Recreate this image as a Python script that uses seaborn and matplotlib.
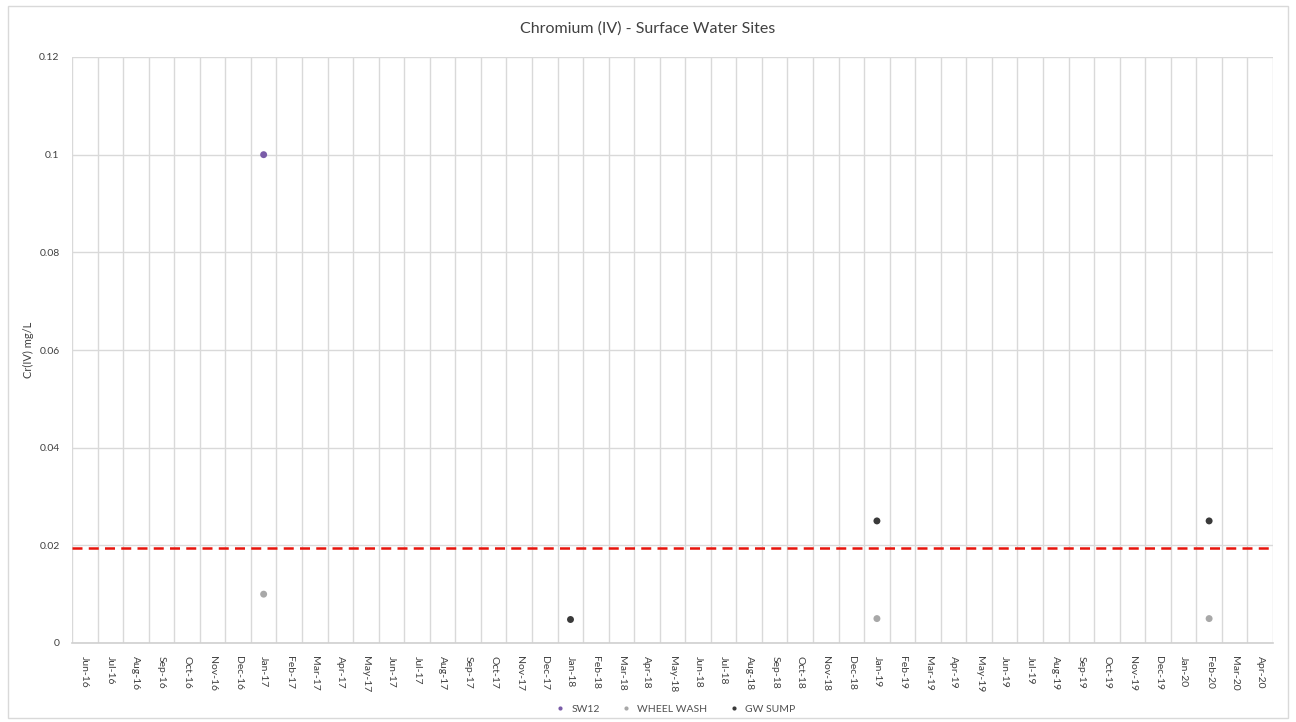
import matplotlib
matplotlib.use("Agg")
import matplotlib.pyplot as plt
import numpy as np
import pandas as pd
import seaborn as sns
from matplotlib.patches import Rectangle

# ── Datos ──────────────────────────────────────────────────────────
months = [
    "Jun-16", "Jul-16", "Aug-16", "Sep-16", "Oct-16", "Nov-16", "Dec-16",
    "Jan-17", "Feb-17", "Mar-17", "Apr-17", "May-17", "Jun-17", "Jul-17",
    "Aug-17", "Sep-17", "Oct-17", "Nov-17", "Dec-17", "Jan-18", "Feb-18",
    "Mar-18", "Apr-18", "May-18", "Jun-18", "Jul-18", "Aug-18", "Sep-18",
    "Oct-18", "Nov-18", "Dec-18", "Jan-19", "Feb-19", "Mar-19", "Apr-19",
    "May-19", "Jun-19", "Jul-19", "Aug-19", "Sep-19", "Oct-19", "Nov-19",
    "Dec-19", "Jan-20", "Feb-20", "Mar-20", "Apr-20",
]
sites = ["SW12", "WHEEL WASH", "GW SUMP"]

sw12_months = ["Jan-17"]
sw12_values = [0.100]

wheel_months = ["Jan-17", "Jan-19", "Feb-20"]
wheel_values = [0.010, 0.005, 0.005]

sump_months = ["Jan-18", "Jan-19", "Feb-20"]
sump_values = [0.005, 0.025, 0.025]

limit_value = 0.0195

df = pd.concat([
    pd.DataFrame({"month": sw12_months, "value": sw12_values, "site": "SW12"}),
    pd.DataFrame({"month": wheel_months, "value": wheel_values, "site": "WHEEL WASH"}),
    pd.DataFrame({"month": sump_months, "value": sump_values, "site": "GW SUMP"}),
], ignore_index=True)

palette = {"SW12": "#7a5ca8", "WHEEL WASH": "#a8a8a8", "GW SUMP": "#3a3a3a"}

# ── Gráfico ────────────────────────────────────────────────────────
sns.set_theme(style="white")
plt.rcParams["font.family"] = ["Lato", "DejaVu Sans"]

fig = plt.figure(figsize=(12.96, 7.22), dpi=100)
ax = fig.add_axes([72 / 1296, 1 - 643 / 722, (1273 - 72) / 1296, (643 - 57) / 722])

sns.stripplot(
    data=df, x="month", y="value", hue="site", order=months, hue_order=sites,
    palette=palette, jitter=False, dodge=False, size=5, linewidth=0, ax=ax,
)

ax.axhline(limit_value, color="#e8140c", lw=1.8, ls=(0, (4, 2.5)), zorder=1)

ax.set_xlim(-0.5, len(months) - 0.5)
ax.set_ylim(0, 0.12)
ax.set_yticks(np.arange(0, 0.121, 0.02))
ax.set_yticklabels(["0", "0.02", "0.04", "0.06", "0.08", "0.1", "0.12"], fontsize=7.5, color="#404040")
ax.set_xticks(range(len(months)))
ax.set_xticklabels(months, rotation=-90, fontsize=7.5, color="#404040")
ax.set_xticks(np.arange(-0.5, len(months)), minor=True)
ax.tick_params(axis="both", which="both", length=0, pad=9)
ax.grid(True, which="minor", axis="x", color="#d9d9d9", lw=1)
ax.grid(True, which="major", axis="y", color="#d9d9d9", lw=1)
ax.grid(False, which="major", axis="x")
ax.set_axisbelow(True)

for s in ["top", "right", "left"]:
    ax.spines[s].set_visible(False)
ax.spines["bottom"].set_color("#d0d0d0")
ax.spines["bottom"].set_linewidth(1.2)

ax.set_xlabel("")
ax.set_ylabel("Cr(IV) mg/L", fontsize=8, color="#404040", labelpad=4)
fig.suptitle("Chromium (IV) - Surface Water Sites", y=1 - 29 / 722, va="center",
             fontsize=11.5, color="#404040")

leg = ax.legend(loc="center", bbox_to_anchor=(0.5, -(709 - 643) / (643 - 57)),
                ncol=3, frameon=False, fontsize=7.5, handletextpad=0.1,
                columnspacing=1.5, markerscale=0.6)
for t in leg.get_texts():
    t.set_color("#505050")

fig.patches.append(Rectangle((8 / 1296, 4 / 722), 1280 / 1296, 712 / 722, transform=fig.transFigure,
                             fill=False, edgecolor="#d9d9d9", lw=1))

fig.savefig("out.png", dpi=100)
